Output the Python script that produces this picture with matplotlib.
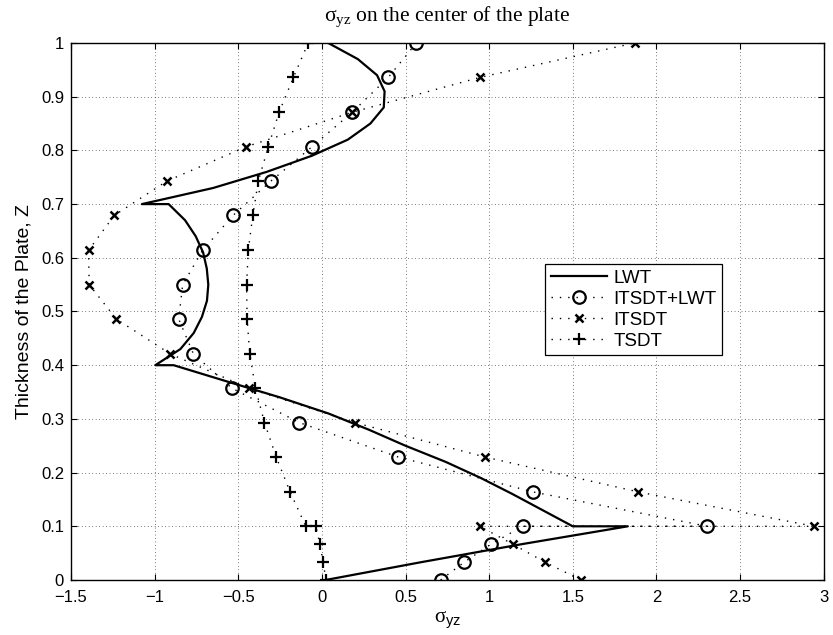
import matplotlib
matplotlib.use("Agg")
import matplotlib.pyplot as plt

plt.rcParams["font.family"] = ["Liberation Sans", "DejaVu Sans"]
plt.rcParams["mathtext.fontset"] = "custom"
plt.rcParams["mathtext.rm"] = "Liberation Serif"
plt.rcParams["mathtext.it"] = "Liberation Serif:italic"
plt.rcParams["mathtext.sf"] = "Liberation Sans"

# through-thickness sampling points used by the plate theories
z_nodes = [0.0, 0.033, 0.067, 0.1, 0.1, 0.164, 0.229, 0.293, 0.357, 0.421,
           0.486, 0.55, 0.614, 0.679, 0.743, 0.807, 0.871, 0.936, 1.0]

itsdt_lwt = [0.71, 0.85, 1.012, 1.2, 2.305, 1.263, 0.457, -0.134, -0.537, -0.768,
             -0.856, -0.832, -0.713, -0.531, -0.304, -0.058, 0.181, 0.397, 0.565]
itsdt = [1.549, 1.335, 1.14, 0.944, 2.942, 1.892, 0.976, 0.198, -0.437, -0.906,
         -1.229, -1.391, -1.395, -1.241, -0.926, -0.451, 0.181, 0.946, 1.87]
tsdt = [0.024, 0.008, -0.012, -0.036, -0.096, -0.19, -0.273, -0.343, -0.397, -0.431,
        -0.447, -0.45, -0.44, -0.413, -0.38, -0.32, -0.256, -0.17, -0.082]

# layer-wise solution, one block per layer (0-0.1, 0.1-0.4, 0.4-0.7, 0.7-1)
lwt_z = [0.0, 0.033, 0.067, 0.1,
         0.1, 0.13, 0.16, 0.19, 0.22, 0.25, 0.28, 0.31, 0.34, 0.37, 0.4,
         0.4, 0.43, 0.46, 0.49, 0.52, 0.55, 0.58, 0.61, 0.64, 0.67, 0.7,
         0.7, 0.73, 0.76, 0.79, 0.82, 0.85, 0.88, 0.91, 0.94, 0.97, 1.0]
lwt_x = [0.022, 0.59, 1.2, 1.829,
         1.50, 1.32, 1.14, 0.95, 0.74, 0.50, 0.28, 0.04, -0.25, -0.57, -0.886,
         -0.996, -0.846, -0.766, -0.717, -0.687, -0.679, -0.688, -0.71, -0.754, -0.818, -0.916,
         -1.076, -0.65, -0.33, -0.06, 0.155, 0.29, 0.37, 0.375, 0.33, 0.215, 0.038]

x_ticks = [-1.5, -1, -0.5, 0, 0.5, 1, 1.5, 2, 2.5, 3]
x_tick_labels = ["\u22121.5", "\u22121", "\u22120.5", "0", "0.5", "1", "1.5", "2", "2.5", "3"]
y_ticks = [0, 0.1, 0.2, 0.3, 0.4, 0.5, 0.6, 0.7, 0.8, 0.9, 1]
y_tick_labels = ["0", "0.1", "0.2", "0.3", "0.4", "0.5", "0.6", "0.7", "0.8", "0.9", "1"]

dots = (0, (1, 5))

fig = plt.figure(figsize=(8.33, 6.35), dpi=100)
ax = fig.add_axes([0.0852, 0.0866, 0.9036, 0.8457])

ax.plot(lwt_x, lwt_z, "-", color="k", lw=1.6, label="LWT")
ax.plot(itsdt_lwt, z_nodes, color="k", ls=dots, lw=1.0, marker="o", ms=9,
        mfc="none", mec="k", mew=1.6, label="ITSDT+LWT")
ax.plot(itsdt, z_nodes, color="k", ls=dots, lw=1.0, marker="x", ms=6,
        mec="k", mew=1.8, label="ITSDT")
ax.plot(tsdt, z_nodes, color="k", ls=dots, lw=1.0, marker="+", ms=9,
        mec="k", mew=1.6, label="TSDT")

ax.set_xlim(-1.5, 3)
ax.set_ylim(0, 1)
ax.set_xticks(x_ticks)
ax.set_xticklabels(x_tick_labels)
ax.set_yticks(y_ticks)
ax.set_yticklabels(y_tick_labels)
ax.tick_params(direction="in", top=True, right=True, length=4, width=0.8,
               labelsize=12)
ax.tick_params(axis="x", pad=7)
ax.tick_params(axis="y", pad=5)
ax.grid(True, color="k", ls=(0, (1, 4)), lw=0.5)
for sp in ax.spines.values():
    sp.set_linewidth(1.0)

ax.set_title(r"$\mathrm{σ}_{\mathrm{yz}}$ on the center of the plate",
             family="Liberation Serif", fontsize=15.5, pad=16)
ax.set_xlabel(r"$\mathrm{σ}_{\mathsf{yz}}$", fontsize=15, labelpad=3)
ax.set_ylabel("Thickness of the Plate, Z", fontsize=14, labelpad=6)

leg = ax.legend(loc="upper left", bbox_to_anchor=(0.63, 0.588), fontsize=13.5,
                handlelength=3.0, handletextpad=0.35, borderpad=0.3,
                labelspacing=0.2, borderaxespad=0, fancybox=False,
                framealpha=1, edgecolor="k")
leg.get_frame().set_linewidth(0.9)

fig.savefig("out.png", dpi=100)
